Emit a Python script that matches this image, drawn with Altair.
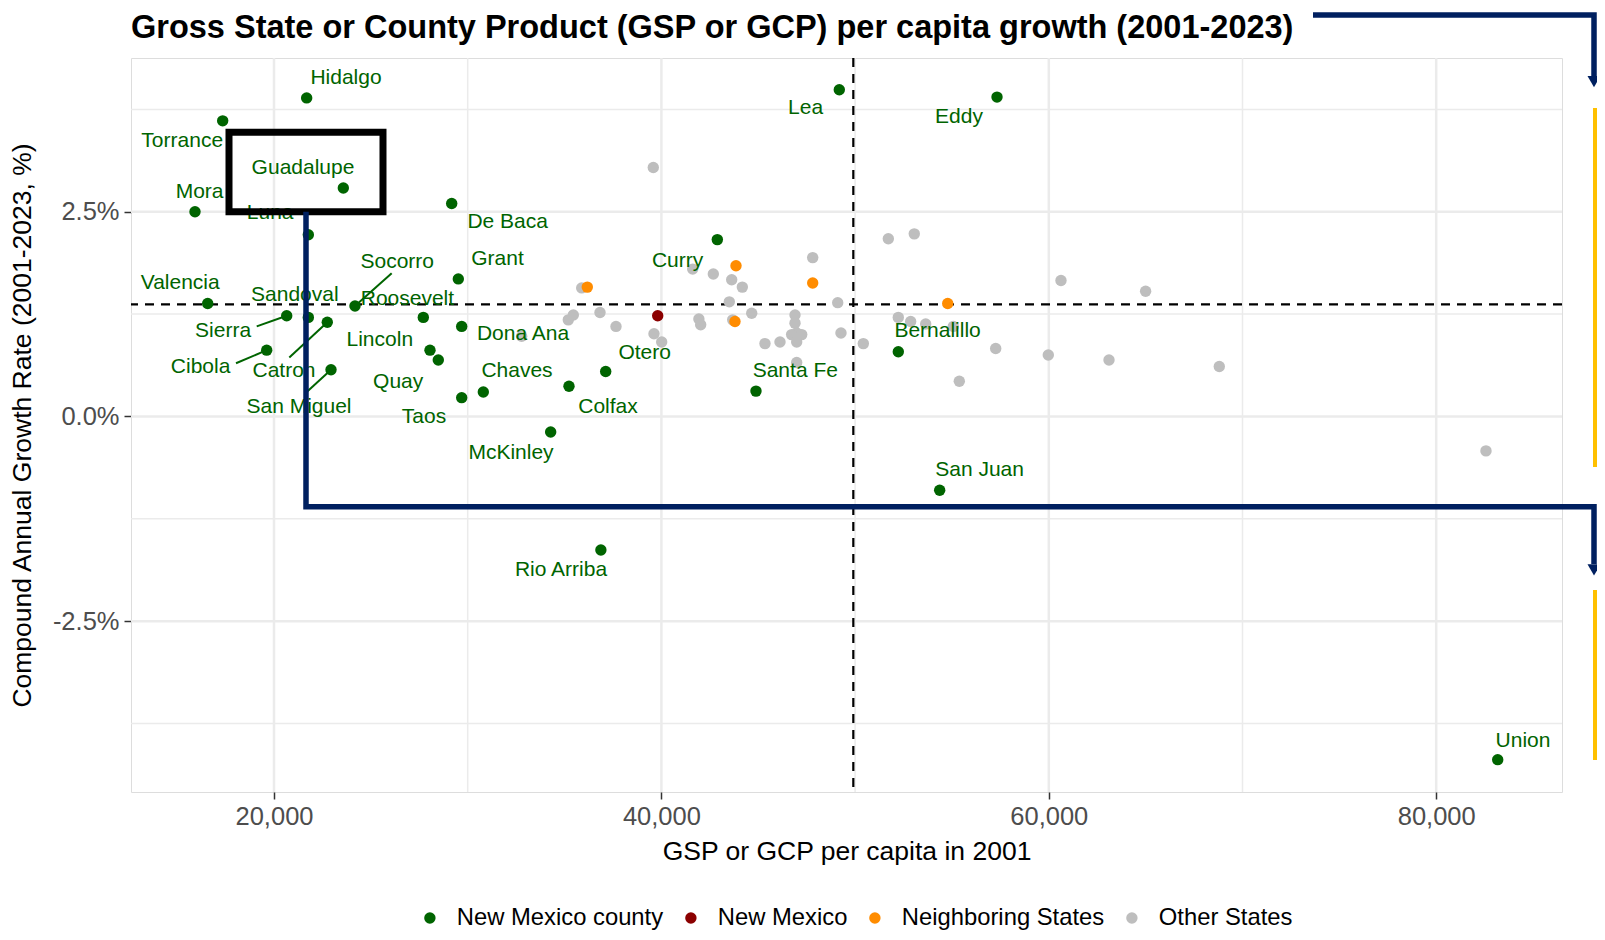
import altair as alt
import pandas as pd

FONT = "Liberation Sans"
GREEN = "#006400"
NAVY = "#002060"

# ---------------- data ----------------
counties = ["Hidalgo", "Torrance", "Guadalupe", "Mora", "Luna", "De Baca", "Grant",
            "Valencia", "Socorro", "Sandoval", "Roosevelt", "Sierra", "Lincoln",
            "Cibola", "Catron", "Quay", "San Miguel", "Taos", "Dona Ana", "Chaves",
            "Colfax", "Otero", "McKinley", "Curry", "Santa Fe", "Bernalillo",
            "San Juan", "Rio Arriba", "Union", "Lea", "Eddy"]
county_gdp = [21686, 17351, 23579, 15921, 21772, 29174, 29515,
              16577, 24181, 21772, 27708, 20656, 28053,
              19623, 22751, 28482, 22943, 29690, 29690, 30806,
              35229, 37124, 34283, 42887, 44883, 52230,
              54367, 36876, 83175, 49184, 57326]
county_cagr = [3.89, 3.61, 2.79, 2.50, 2.22, 2.60, 1.68,
               1.38, 1.35, 1.21, 1.21, 1.23, 0.81,
               0.81, 1.15, 0.69, 0.57, 0.23, 1.10, 0.30,
               0.37, 0.55, -0.19, 2.16, 0.31, 0.79,
               -0.90, -1.63, -4.19, 3.99, 3.90]
# repelled label anchors (data units)
label_x = [23717, 15261, 21497, 16159, 19803, 32065, 31538,
           15157, 26361, 21074, 26887, 17372, 25462,
           16211, 20517, 26412, 21290, 27744, 32855, 32545,
           37243, 39137, 32236, 40836, 46912, 54259,
           56427, 34817, 84480, 47444, 55364]
label_y = [4.13, 3.36, 3.03, 2.74, 2.48, 2.37, 1.92,
           1.63, 1.89, 1.48, 1.44, 1.05, 0.93,
           0.61, 0.55, 0.42, 0.12, -0.01, 1.01, 0.55,
           0.11, 0.78, -0.44, 1.90, 0.56, 1.04,
           -0.65, -1.87, -3.96, 3.77, 3.66]
# leader segments (start near label, end at point)
seg_names = ["Socorro", "Sierra", "Cibola", "Catron", "San Miguel"]
seg_x0 = [26076, 19107, 18038, 20790, 21689]
seg_y0 = [1.75, 1.10, 0.65, 0.72, 0.30]

nm_gdp = [39809]
nm_cagr = [1.23]
neighbor_gdp = [36174, 43851, 47811, 54781, 43799]
neighbor_cagr = [1.58, 1.84, 1.63, 1.38, 1.16]
other_gdp = [35885, 35452, 35193, 36830, 37656, 32785, 39618, 40015, 39581, 47811,
             41615, 42680, 43629, 44177, 43505, 49102, 41935, 42028, 43681, 44662,
             46897, 46897, 46984, 46724, 47243, 46984, 45347, 46122, 49271, 46984,
             50424, 51715, 53055, 52230, 52869, 53644, 55070, 57258, 55380, 59974,
             63108, 68802, 60629, 64998, 82570]
other_cagr = [1.57, 1.24, 1.18, 1.27, 1.10, 0.98, 1.01, 0.91, 3.04, 1.94,
              1.80, 1.74, 1.67, 1.58, 1.40, 1.39, 1.19, 1.12, 1.18, 1.26,
              1.24, 1.14, 1.02, 1.00, 1.00, 0.91, 0.89, 0.91, 1.02, 0.66,
              0.89, 2.17, 2.23, 1.21, 1.16, 1.13, 1.10, 0.83, 0.43, 0.75,
              0.69, 0.61, 1.66, 1.53, -0.42]

us_gdp_2001 = [49908]
us_cagr = [1.37]

groups = ["New Mexico county", "New Mexico", "Neighboring States", "Other States"]
group_colors = ["#006400", "#8B0000", "#FF8C00", "#BEBEBE"]

x_ticks = [20000, 40000, 60000, 80000]
x_minor = [30000, 50000, 70000]
y_ticks = [-2.5, 0.0, 2.5]
y_minor = [-3.75, -1.25, 1.25, 3.75]
x_domain = [12617.5, 86494.6]
y_domain = [-4.5849, 4.3773]

# slide annotations (data units)
box_x, box_x2, box_y, box_y2 = [17677], [25627], [3.47], [2.50]
navy_path = ["a", "a", "a", "a", "b", "b", "b"]
navy_x = [21652, 21652, 88147, 88147, 73640, 88147, 88147]
navy_y = [2.50, -1.101, -1.101, -1.80, 4.902, 4.902, 4.15]
arrow_x = [88147, 88147]
arrow_y = [4.09, -1.874]
yellow_x, yellow_x2 = [88095, 88095], [88360, 88360]
yellow_y, yellow_y2 = [3.767, -2.118], [-0.617, -4.194]

TITLE = "Gross State or County Product (GSP or GCP) per capita growth (2001-2023)"
XTITLE = "GSP or GCP per capita in 2001"
YTITLE = "Compound Annual Growth Rate (2001-2023, %)"

# ---------------- tables ----------------
pts = pd.concat([
    pd.DataFrame({"gdp": other_gdp, "cagr": other_cagr, "group": "Other States"}),
    pd.DataFrame({"gdp": neighbor_gdp, "cagr": neighbor_cagr, "group": "Neighboring States"}),
    pd.DataFrame({"gdp": nm_gdp, "cagr": nm_cagr, "group": "New Mexico"}),
    pd.DataFrame({"gdp": county_gdp, "cagr": county_cagr, "group": "New Mexico county"}),
], ignore_index=True)
labels = pd.DataFrame({"name": counties, "lx": label_x, "ly": label_y})
idx = [counties.index(n) for n in seg_names]
segs = pd.DataFrame({"sx": seg_x0, "sy": seg_y0,
                     "ex": [county_gdp[i] for i in idx],
                     "ey": [county_cagr[i] for i in idx]})

xscale = alt.Scale(domain=x_domain, nice=False, zero=False)
yscale = alt.Scale(domain=y_domain, nice=False, zero=False)
xaxis = alt.Axis(values=x_ticks, format=",d", grid=False, domain=False,
                 tickColor="#333333", tickWidth=1.5, tickSize=7,
                 labelFont=FONT, labelFontSize=25.5, labelColor="#4D4D4D", labelPadding=5,
                 labelFlush=False,
                 titleFont=FONT, titleFontSize=26.5, titleColor="black",
                 titleFontWeight="normal", titlePadding=9)
yaxis = alt.Axis(values=y_ticks, grid=False, domain=False,
                 labelExpr="(datum.value < 0 ? '-' : '') + format(abs(datum.value), '.1f') + '%'",
                 tickColor="#333333", tickWidth=1.5, tickSize=7,
                 labelFont=FONT, labelFontSize=25.5, labelColor="#4D4D4D", labelPadding=5,
                 labelFlush=False,
                 titleFont=FONT, titleFontSize=26.5, titleColor="black",
                 titleFontWeight="normal", titlePadding=16)


def X(f):
    return alt.X(f, type="quantitative", scale=xscale, axis=xaxis, title=XTITLE)


def Y(f):
    return alt.Y(f, type="quantitative", scale=yscale, axis=yaxis, title=YTITLE)


grid_major_x = alt.Chart(pd.DataFrame({"v": x_ticks})).mark_rule(
    color="#EBEBEB", strokeWidth=2.5).encode(x=X("v"))
grid_minor_x = alt.Chart(pd.DataFrame({"v": x_minor})).mark_rule(
    color="#EBEBEB", strokeWidth=1.5).encode(x=X("v"))
grid_major_y = alt.Chart(pd.DataFrame({"v": y_ticks})).mark_rule(
    color="#EBEBEB", strokeWidth=2.5).encode(y=Y("v"))
grid_minor_y = alt.Chart(pd.DataFrame({"v": y_minor})).mark_rule(
    color="#EBEBEB", strokeWidth=1.5).encode(y=Y("v"))

us_v = alt.Chart(pd.DataFrame({"v": us_gdp_2001})).mark_rule(
    color="black", strokeWidth=2.2, strokeDash=[9, 7]).encode(x=X("v"))
us_h = alt.Chart(pd.DataFrame({"v": us_cagr})).mark_rule(
    color="black", strokeWidth=2.2, strokeDash=[9, 7]).encode(y=Y("v"))

points = alt.Chart(pts).mark_point(filled=True, size=130, opacity=1, strokeWidth=0).encode(
    x=X("gdp"), y=Y("cagr"),
    color=alt.Color("group:N",
                    scale=alt.Scale(domain=groups, range=group_colors),
                    legend=alt.Legend(title=None, orient="none", legendX=287, legendY=848,
                                      direction="horizontal", symbolType="circle",
                                      symbolSize=130, symbolOpacity=1, symbolStrokeWidth=0,
                                      labelFont=FONT, labelFontSize=23.8, labelColor="black",
                                      labelLimit=500, labelOffset=15, columnPadding=15,
                                      padding=0)),
)

segments = alt.Chart(segs).mark_rule(color=GREEN, strokeWidth=2).encode(
    x=X("sx"), y=Y("sy"), x2="ex", y2="ey")

texts = alt.Chart(labels).mark_text(font=FONT, fontSize=21, color=GREEN,
                                    align="center", baseline="middle").encode(
    x=X("lx"), y=Y("ly"), text="name:N")

box = alt.Chart(pd.DataFrame({"x": box_x, "x2": box_x2, "y": box_y, "y2": box_y2})).mark_rect(
    fillOpacity=0, stroke="black", strokeWidth=7).encode(
    x=X("x"), x2="x2", y=Y("y"), y2="y2")

navy = alt.Chart(pd.DataFrame({"p": navy_path, "x": navy_x, "y": navy_y,
                               "i": list(range(len(navy_x)))})).mark_line(
    color=NAVY, strokeWidth=5.5, strokeJoin="miter", strokeCap="butt").encode(
    x=X("x"), y=Y("y"), detail="p:N", order="i:Q")

arrows = alt.Chart(pd.DataFrame({"x": arrow_x, "y": arrow_y})).mark_point(
    shape="triangle-down", filled=True, size=170, color=NAVY, opacity=1).encode(
    x=X("x"), y=Y("y"))

yellow = alt.Chart(pd.DataFrame({"x": yellow_x, "x2": yellow_x2,
                                 "y": yellow_y, "y2": yellow_y2})).mark_rect(
    color="#FFC000").encode(x=X("x"), x2="x2", y=Y("y"), y2="y2")

chart = alt.layer(
    grid_minor_x, grid_minor_y, grid_major_x, grid_major_y,
    us_v, us_h, points, segments, texts, box, navy, arrows, yellow
).properties(
    width=1431, height=734,
    title=alt.TitleParams(TITLE, anchor="start", frame="group", font=FONT,
                          fontSize=32.5, fontWeight="bold", color="black", offset=-40),
    padding={"left": 123, "top": 50, "right": 35, "bottom": 140},
    autosize="none",
).configure_view(stroke="#333333", strokeWidth=1.5).configure(background="white")

chart.save("out.html", embed_options={"renderer": "svg", "actions": False})
